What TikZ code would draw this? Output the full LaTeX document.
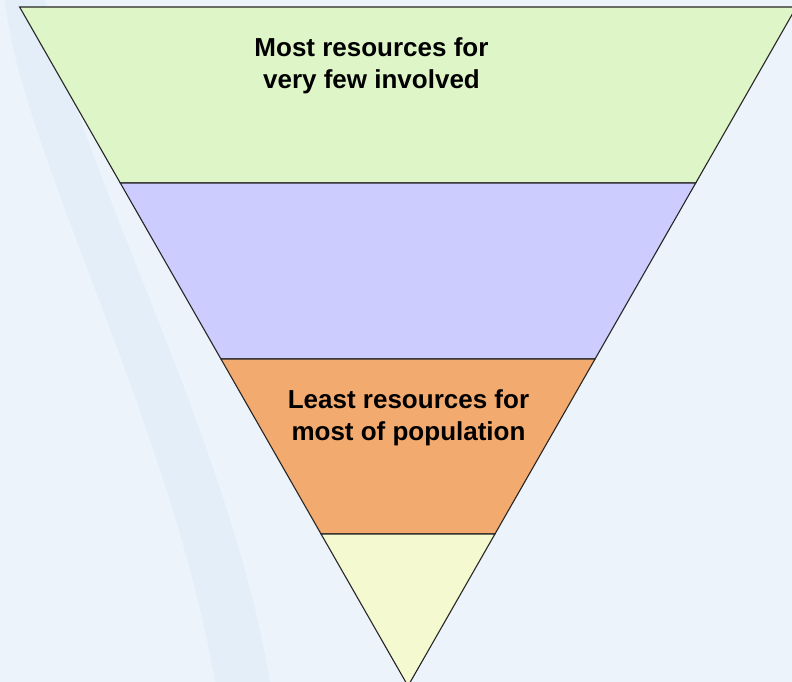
\documentclass[tikz,border=0pt]{standalone}
\usepackage{fontspec}
\setmainfont{Liberation Sans}
\usepackage{tikz}
\definecolor{bgblue}{RGB}{236,243,251}
\definecolor{swoosh}{RGB}{221,235,248}
\definecolor{bandgreen}{RGB}{222,245,200}
\definecolor{bandpurple}{RGB}{204,204,255}
\definecolor{bandorange}{RGB}{243,170,110}
\definecolor{bandyellow}{RGB}{244,249,208}
\tikzset{
	every band/.style={
		draw=black!85,
		line width=1.1pt,
		line join=miter
	},
	band label/.style={
		font=\fontsize{26}{32}\selectfont\bfseries,
		align=center,
		text=black
	},
}

\begin{document}
\begin{tikzpicture}[x=1pt, y=-1pt]

\fill [bgblue] (0,0) rectangle (792,682);
\useasboundingbox (0,0) rectangle (792,682);

% faint background swoosh
\fill [swoosh, opacity=0.5] (5,0) .. controls (20,150) and (170,420) .. (215,682)
	-- (270,682) .. controls (230,440) and (80,170) .. (45,0) -- cycle;

\begin{scope}
\clip (0,0) rectangle (792,682);
\foreach \t/\b/\c in {7/183/bandgreen, 183/359/bandpurple, 359/534/bandorange, 534/686/bandyellow} {
	\pgfmathsetmacro\wt{0.572*(686-\t)}
	\pgfmathsetmacro\wb{0.572*(686-\b)}
	\draw [every band, fill=\c] (408-\wt,\t) -- (408+\wt,\t)
		-- (408+\wb,\b) -- (408-\wb,\b) -- cycle;
}
\end{scope}

\node [band label] (top-label) at (371.5,66) {Most resources for\\very few involved};
\node [band label] (low-label) at (408.5,418) {Least resources for\\most of population};

\end{tikzpicture}
\end{document}
